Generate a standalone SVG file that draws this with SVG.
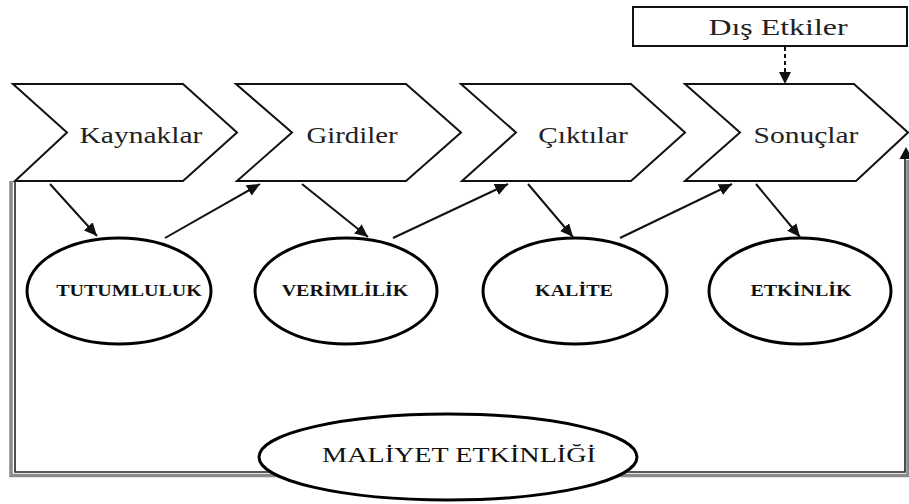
<svg xmlns="http://www.w3.org/2000/svg" width="909" height="504" viewBox="0 0 909 504">
  <style>
    .chev { fill: #fff; stroke: #111; stroke-width: 2; stroke-linejoin: miter; }
    .oval { fill: #fff; stroke: #000; stroke-width: 3; }
    .stage { font-family: "Liberation Serif", "Times New Roman", serif; font-size: 24px; fill: #222; text-anchor: middle; }
    .metric { font-family: "Liberation Serif", "Times New Roman", serif; font-size: 16px; font-weight: bold; fill: #111; text-anchor: middle; }
    .big { font-family: "Liberation Serif", "Times New Roman", serif; font-size: 22px; fill: #111; text-anchor: middle; }
    .arrow { stroke: #111; stroke-width: 2; fill: none; marker-end: url(#head); }
  </style>
  <defs>
    <marker id="head" markerUnits="userSpaceOnUse" markerWidth="14" markerHeight="12" refX="13" refY="6" orient="auto">
      <path d="M0,0 L13,6 L0,12 Z" fill="#111"/>
    </marker>
  </defs>
  <rect width="909" height="504" fill="#fff"/>

  <!-- feedback frame: grey shadow band plus dark line -->
  <g id="feedback">
    <path d="M11,181 V475.5 H908 V160" fill="none" stroke="#8a8a8a" stroke-width="3.5"/>
    <path d="M15,181 V472 H905 V158" fill="none" stroke="#222" stroke-width="1.6"/>
    <polygon points="906,147 899.5,159 912.5,159" fill="#111"/>
  </g>

  <!-- process chevrons -->
  <g id="kaynaklar">
    <polygon class="chev" points="13,84 183,84 237,132.5 183,181 15,181 67,132.5"/>
    <text class="stage" transform="translate(141,143) scale(1.23,1)">Kaynaklar</text>
  </g>
  <g id="girdiler">
    <polygon class="chev" points="236,84 406,84 461,132.5 406,181 237,181 292,132.5"/>
    <text class="stage" transform="translate(352,143) scale(1.2,1)">Girdiler</text>
  </g>
  <g id="ciktilar">
    <polygon class="chev" points="461,84 631,84 685,132.5 631,181 462,181 516,132.5"/>
    <text class="stage" transform="translate(583,143) scale(1.22,1)">Çıktılar</text>
  </g>
  <g id="sonuclar">
    <polygon class="chev" points="685,84 854,84 908,132.5 856,181 685,181 740,132.5"/>
    <text class="stage" transform="translate(806,143) scale(1.23,1)">Sonuçlar</text>
  </g>

  <!-- external influences -->
  <g id="dis-etkiler">
    <rect x="633" y="7" width="274" height="39" fill="#fff" stroke="#111" stroke-width="2"/>
    <text class="stage" font-size="22" transform="translate(778,35) scale(1.33,1)">Dış Etkiler</text>
  </g>

  <!-- measures -->
  <g id="tutumluluk">
    <ellipse class="oval" cx="119" cy="291" rx="92" ry="53"/>
    <text class="metric" transform="translate(129,296) scale(1.25,1)">TUTUMLULUK</text>
  </g>
  <g id="verimlilik">
    <ellipse class="oval" cx="346" cy="291" rx="91" ry="53"/>
    <text class="metric" transform="translate(345,296) scale(1.25,1)">VERİMLİLİK</text>
  </g>
  <g id="kalite">
    <ellipse class="oval" cx="575" cy="291" rx="92" ry="53"/>
    <text class="metric" transform="translate(574,296) scale(1.25,1)">KALİTE</text>
  </g>
  <g id="etkinlik">
    <ellipse class="oval" cx="800" cy="291" rx="91" ry="53"/>
    <text class="metric" transform="translate(801,296) scale(1.25,1)">ETKİNLİK</text>
  </g>
  <g id="maliyet-etkinligi">
    <ellipse class="oval" cx="448" cy="457" rx="189" ry="43"/>
    <text class="big" transform="translate(459,462) scale(1.28,1)">MALİYET ETKİNLİĞİ</text>
  </g>

  <!-- connectors -->
  <g id="connectors">
    <line class="arrow" x1="50" y1="184" x2="97" y2="236"/>
    <line class="arrow" x1="165" y1="238" x2="260" y2="184"/>
    <line class="arrow" x1="302" y1="184" x2="368" y2="237"/>
    <line class="arrow" x1="393" y1="238" x2="508" y2="184"/>
    <line class="arrow" x1="528" y1="184" x2="573" y2="237"/>
    <line class="arrow" x1="620" y1="238" x2="732" y2="184"/>
    <line class="arrow" x1="756" y1="184" x2="800" y2="237"/>
    <line x1="785" y1="47" x2="785" y2="73" stroke="#111" stroke-width="2" stroke-dasharray="4,3"/>
    <polygon points="785,84 779,72 791,72" fill="#111"/>
  </g>
</svg>
